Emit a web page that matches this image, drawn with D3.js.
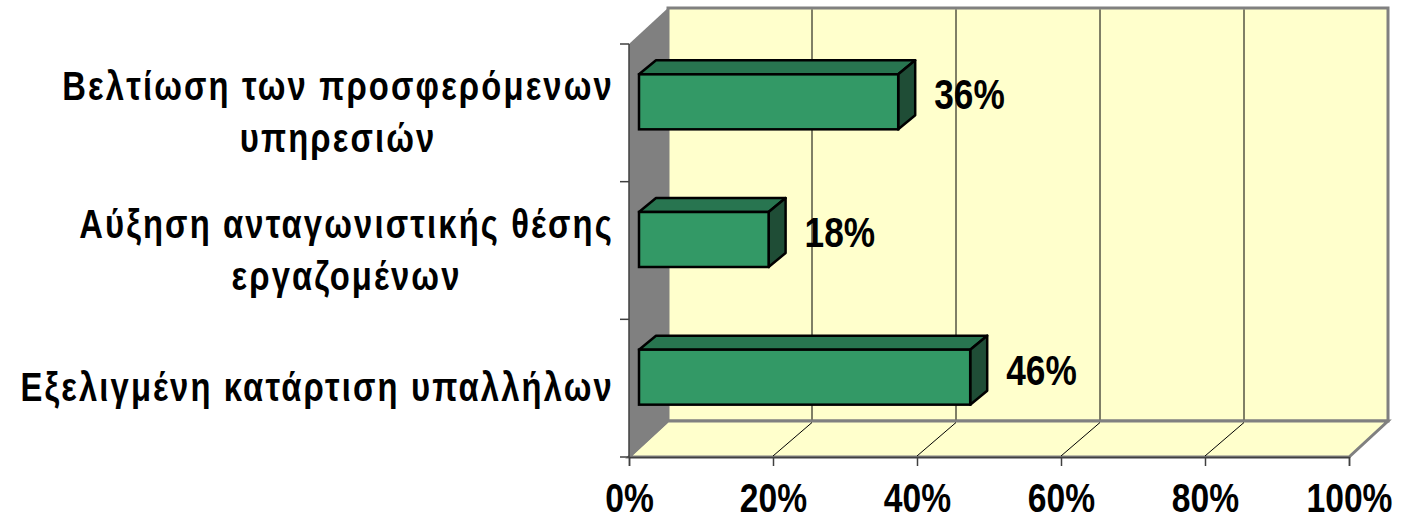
<!DOCTYPE html>
<html>
<head>
<meta charset="utf-8">
<script src="https://cdn.jsdelivr.net/npm/d3@7"></script>
<style>
  html, body { margin: 0; padding: 0; background: #ffffff; }
  svg { display: block; }
  .cat, .num { font-family: "Liberation Sans", Arial, sans-serif; font-weight: bold; fill: #000; }
</style>
</head>
<body>
<svg id="chart" width="1402" height="520"></svg>
<script>
// Categories in series order (first one sits at the bottom of the chart)
const categories = [
  "Εξελιγμένη κατάρτιση υπαλλήλων",
  "Αύξηση ανταγωνιστικής θέσης εργαζομένων",
  "Βελτίωση των προσφερόμενων υπηρεσιών"
];
// Wrapped label lines for each category
const categoryLines = [
  ["Εξελιγμένη κατάρτιση υπαλλήλων"],
  ["Αύξηση ανταγωνιστικής θέσης", "εργαζομένων"],
  ["Βελτίωση των προσφερόμενων", "υπηρεσιών"]
];
const values = [46, 18, 36];
const xTicks = [0, 20, 40, 60, 80, 100];

// Horizontal squeeze that gives the narrow bold lettering
const NARROW = 0.82;

const svg = d3.select("#chart");
const W = 1402, H = 520;
svg.append("rect").attr("width", W).attr("height", H).attr("fill", "#ffffff");

// Front plane of the 3D box
const plot = { left: 629, right: 1349, top: 44, bottom: 457 };
// Depth offset of the back wall
const depth = { dx: 39, dy: -36 };

const x = d3.scaleLinear().domain([0, 100]).range([plot.left, plot.right]);
const y = d3.scaleBand().domain(categories).range([plot.bottom, plot.top]).padding(0);

const wallFill = "#FFFFCC";
const edgeGray = "#808080";

// Side wall (left)
svg.append("path")
  .attr("d", d3.line()([
    [x(0), plot.top], [x(0) + depth.dx, plot.top + depth.dy],
    [x(0) + depth.dx, plot.bottom + depth.dy], [x(0), plot.bottom]
  ]) + "Z")
  .attr("fill", edgeGray).attr("stroke", "none");

// Back wall
svg.append("rect")
  .attr("x", x(0) + depth.dx).attr("y", plot.top + depth.dy)
  .attr("width", x(100) - x(0)).attr("height", plot.bottom - plot.top)
  .attr("fill", wallFill).attr("stroke", edgeGray).attr("stroke-width", 3);

// Floor
svg.append("path")
  .attr("d", d3.line()([
    [x(0), plot.bottom], [x(100), plot.bottom],
    [x(100) + depth.dx, plot.bottom + depth.dy], [x(0) + depth.dx, plot.bottom + depth.dy]
  ]) + "Z")
  .attr("fill", wallFill).attr("stroke", edgeGray).attr("stroke-width", 3).attr("stroke-linejoin", "miter");

// Side wall edge over the floor seam
svg.append("line")
  .attr("x1", x(0)).attr("y1", plot.bottom)
  .attr("x2", x(0) + depth.dx).attr("y2", plot.bottom + depth.dy)
  .attr("stroke", edgeGray).attr("stroke-width", 2);

// Gridlines on back wall and floor
const inner = xTicks.filter(t => t > 0 && t < 100);
svg.append("g").selectAll("line").data(inner).join("line")
  .attr("x1", d => x(d) + depth.dx).attr("x2", d => x(d) + depth.dx)
  .attr("y1", plot.top + depth.dy + 1.5).attr("y2", plot.bottom + depth.dy - 1.5)
  .attr("stroke", "#000").attr("stroke-width", 1);
svg.append("g").selectAll("line").data(inner).join("line")
  .attr("x1", d => x(d)).attr("y1", plot.bottom - 1)
  .attr("x2", d => x(d) + depth.dx).attr("y2", plot.bottom + depth.dy + 1.5)
  .attr("stroke", "#000").attr("stroke-width", 1);

// Bars as 3D boxes
const bar = { fx: 10, fy: -11, h: 55, ddx: 17, ddy: -14 };
const colFront = "#339966", colTop = "#287550", colSide = "#1F4D36";
const bars = svg.append("g").selectAll("g").data(categories).join("g");
bars.each(function (c, i) {
  const g = d3.select(this);
  const cy = y(c) + y.bandwidth() / 2 + bar.fy;
  const x0 = x(0) + bar.fx, x1 = x(values[i]) + bar.fx;
  const y0 = cy - bar.h / 2, y1 = cy + bar.h / 2;
  // top face
  g.append("path")
    .attr("d", d3.line()([[x0, y0], [x0 + bar.ddx, y0 + bar.ddy], [x1 + bar.ddx, y0 + bar.ddy], [x1, y0]]) + "Z")
    .attr("fill", colTop).attr("stroke", "#000").attr("stroke-width", 2.5).attr("stroke-linejoin", "round");
  // side face
  g.append("path")
    .attr("d", d3.line()([[x1, y0], [x1 + bar.ddx, y0 + bar.ddy], [x1 + bar.ddx, y1 + bar.ddy], [x1, y1]]) + "Z")
    .attr("fill", colSide).attr("stroke", "#000").attr("stroke-width", 2.5).attr("stroke-linejoin", "round");
  // front face
  g.append("rect")
    .attr("x", x0).attr("y", y0).attr("width", x1 - x0).attr("height", bar.h)
    .attr("fill", colFront).attr("stroke", "#000").attr("stroke-width", 2.5);
});

// Value labels
svg.append("g").selectAll("text").data(categories).join("text")
  .attr("class", "num")
  .attr("transform", (c, i) => `translate(${x(values[i]) + 46},${y(c) + y.bandwidth() / 2 - 19}) scale(${NARROW},1)`)
  .attr("dy", "0.36em")
  .attr("font-size", 43)
  .text((c, i) => values[i] + "%");

// Left axis line and category boundary ticks
const bounds = categories.map(c => y(c)).concat([plot.bottom]);
svg.append("line")
  .attr("x1", plot.left).attr("x2", plot.left)
  .attr("y1", plot.top).attr("y2", plot.bottom)
  .attr("stroke", "#404040").attr("stroke-width", 1.5);
svg.append("g").selectAll("line").data(bounds).join("line")
  .attr("x1", plot.left - 9).attr("x2", plot.left)
  .attr("y1", d => d).attr("y2", d => d)
  .attr("stroke", "#404040").attr("stroke-width", 1.5);

// Bottom axis
const xAxis = d3.axisBottom(x).tickValues(xTicks).tickFormat(d => d + "%").tickSize(9).tickPadding(17);
const gx = svg.append("g").attr("transform", `translate(0,${plot.bottom})`).call(xAxis);
gx.select(".domain").attr("stroke", "#404040").attr("stroke-width", 1.5);
gx.selectAll(".tick line").attr("stroke", "#404040").attr("stroke-width", 1.5);
gx.selectAll(".tick text")
  .attr("class", "num")
  .attr("font-family", null)
  .attr("font-size", 41)
  .attr("transform", `scale(${NARROW},1)`);

// Category labels: right-aligned blocks, lines centred inside each block
const labelRight = 614;
const lineGap = 52;
const catSpacing = 2.6;
categories.forEach((c, i) => {
  const lines = categoryLines[i];
  const cy = y(c) + y.bandwidth() / 2;
  const g = svg.append("g");
  const texts = g.selectAll("text").data(lines).join("text")
    .attr("class", "cat")
    .attr("font-size", 40)
    .attr("letter-spacing", catSpacing)
    .attr("text-anchor", "middle")
    .attr("dy", "0.33em")
    .text(d => d);
  let maxW = 0;
  texts.each(function () { maxW = Math.max(maxW, this.getComputedTextLength() * NARROW); });
  const cx = labelRight - maxW / 2;
  texts.attr("transform", (d, k) =>
    `translate(${cx},${cy + (k - (lines.length - 1) / 2) * lineGap}) scale(${NARROW},1)`);
});
</script>
</body>
</html>
